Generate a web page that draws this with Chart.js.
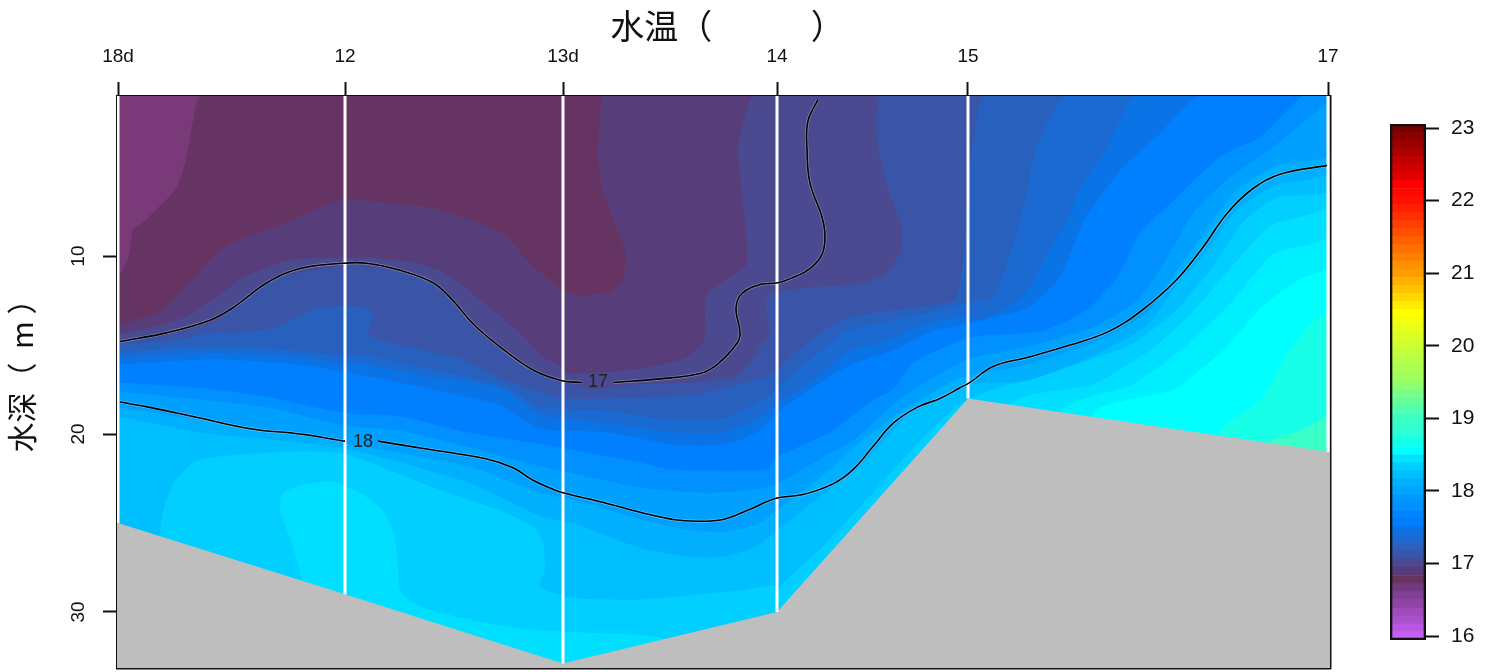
<!DOCTYPE html>
<html>
<head>
<meta charset="utf-8">
<title>水温</title>
<script src="https://cdn.jsdelivr.net/npm/chart.js@4/dist/chart.umd.min.js"></script>
<style>
  html, body { margin: 0; background: #fff; }
  #section { position: absolute; left: 0; top: 0; }
  #colorbar { position: absolute; left: 1340px; top: 0; }
</style>
</head>
<body>
<canvas id="section" width="1434" height="672"></canvas>
<canvas id="colorbar" width="153" height="672"></canvas>
<script>
// stations along the section
const stationLabels = ['18d', '12', '13d', '14', '15', '17'];
const stationKm = [0, 22.7, 44.5, 65.9, 85, 121];
const stationDepth = [25, 29, 32.9, 30, 18, 21];
const depthTicks = [10, 20, 30];

// colour bar
const barTicks = [16, 17, 18, 19, 20, 21, 22, 23];
const barBreaks = [15.945, 16.056, 16.167, 16.278, 16.39, 16.501, 16.612, 16.723, 16.834, 16.945, 17.056, 17.167, 17.278, 17.39, 17.501, 17.612, 17.723, 17.834, 17.945, 18.056, 18.167, 18.278, 18.39, 18.501, 18.612, 18.723, 18.834, 18.945, 19.056, 19.167, 19.278, 19.39, 19.501, 19.612, 19.723, 19.834, 19.945, 20.056, 20.167, 20.278, 20.39, 20.501, 20.612, 20.723, 20.834, 20.945, 21.056, 21.167, 21.278, 21.39, 21.501, 21.612, 21.723, 21.834, 21.945, 22.056, 22.167, 22.278, 22.39, 22.501, 22.612, 22.723, 22.834, 22.945, 23.056];
const barColors = ['#C560F2', '#B858E0', '#A951CC', '#9C4BB8', '#8E45A5', '#804093', '#723A80', '#67345F', '#5A3B79', '#4C4890', '#3D54A6', '#2E5FB9', '#1E69CE', '#0F72E3', '#007DFF', '#0085FF', '#0090FF', '#0098FF', '#00A5FF', '#00B0FF', '#00BFFF', '#00CFFF', '#00E4FF', '#00FFFF', '#14FFEC', '#28FFD7', '#34FFCB', '#3CFFC3', '#50FFAF', '#64FF9B', '#78FF87', '#8CFF73', '#A0FF5F', '#AAFF55', '#B4FF4B', '#C0FF3F', '#CCFF33', '#D8FF28', '#E4FF1C', '#F2FF0E', '#FFFF00', '#FFEC00', '#FFD800', '#FFC400', '#FFB000', '#FF9C00', '#FF9000', '#FF8000', '#FF7000', '#FF6000', '#FF5000', '#FF4000', '#FF3000', '#FF2000', '#FF1000', '#FF0800', '#FF0000', '#E00000', '#D00000', '#BE0000', '#AC0000', '#9A0000', '#880000', '#760000'];

// band outlines as [km, depth]
const bandBase = [[-0.1, 1], [121.2, 1], [121.2, 33.15], [-0.1, 33.15]];
const band17 = [[-0.1, 33.15], [115.2, 33.15], [115.2, 20.5], [118.2, 19.8], [121.2, 18.7]];
const band16 = [[-0.1, 33.15], [110.2, 33.15], [110.2, 19.9], [114.2, 18.1], [117.2, 15.3], [119.2, 13.8], [121.2, 13]];
const band15 = [[-0.1, 33.15], [97.5, 33.15], [97.5, 18.9], [105.5, 17.5], [110.5, 15.3], [114.5, 12.8], [118.2, 11.3], [121.2, 10.5]];
const band14 = [[-0.1, 33.15], [94.2, 33.15], [94.2, 18.8], [101.5, 17.2], [106.9, 15], [111.5, 12.5], [115.5, 9.9], [121.2, 8.8]];
const band13 = [[-0.1, 33.15], [89.2, 33.15], [89.2, 18.4], [97.5, 17.2], [103.2, 15.3], [107.2, 13.3], [111.5, 10.5], [115.2, 8.3], [121.2, 7.1]];
const band12 = [[-0.1, 33.15], [65.9, 33.15], [65.9, 28.9], [70.5, 26.3], [75.5, 23.3], [80.5, 20.2], [84.2, 18.3], [87.5, 17.5], [94.2, 16.4], [101.5, 14.9], [105.9, 13], [109.2, 10.8], [112.5, 8.1], [115.9, 6.7], [121.2, 6.3]];
const pocket13 = [[4.2, 33.15], [4.2, 25.7], [4.5, 24.4], [5.5, 22.8], [7.5, 21.6], [9.5, 21.3], [16.9, 21], [22.5, 21.1], [31.5, 23], [38.2, 24.3], [41.5, 25.2], [42.5, 26.1], [42.7, 27.6], [42.2, 28.6], [45.5, 29.2], [52.2, 29.3], [62.2, 28.8], [65.9, 28.6], [65.9, 33.15]];
const pocket14 = [[18.3, 33.15], [18.3, 28.1], [17.9, 27.1], [17.2, 25.8], [16.2, 24.3], [16.5, 23.3], [18.9, 22.8], [21.5, 22.7], [24.2, 23.3], [26.5, 24.3], [27.7, 25.8], [28, 27.6], [28.2, 28.8], [30.2, 29.7], [34.9, 30.4], [39.9, 30.9], [44.4, 31.1], [52.2, 31.3], [54.7, 31.6], [54.7, 33.15]];
const band11 = [[-0.1, 19], [8.2, 19.9], [22.5, 20.8], [34.9, 22.7], [42.2, 24.6], [45.5, 25], [52.2, 26.4], [57.2, 26.9], [60.5, 26.9], [63.9, 26.3], [65.9, 25.4], [71.2, 23.1], [73.9, 22], [78.9, 19], [82.9, 17.7], [85, 17.2], [90.9, 17], [97.5, 15.6], [102.9, 13.9], [105.9, 11.6], [108.9, 9.7], [111.9, 7.4], [115.9, 6], [121.2, 5.3]];
const band10 = [[-0.1, 18.5], [8.2, 19.2], [22.5, 20.5], [34.9, 21.8], [42.2, 23.3], [45.5, 23.7], [52.2, 24.8], [57.2, 25.4], [60.5, 25.5], [63.9, 25.1], [65.9, 24.3], [71.2, 22], [73.9, 20.6], [78.2, 18.8], [82.9, 17.2], [85, 16.7], [90.9, 16.1], [97.5, 14.9], [102.9, 13.2], [105.9, 10.8], [108.9, 8.5], [111.9, 6.3], [115.9, 4.9], [121.2, 4.3]];
const band9 = [[-0.1, 17.6], [14.9, 18.5], [22.5, 19.5], [28.2, 19.8], [34.9, 20.7], [41.5, 21.7], [45.5, 22.2], [52.2, 23], [58.9, 23.3], [63.9, 23.1], [65.9, 22.8], [70.5, 21.3], [73.9, 20.2], [77.2, 18.5], [79.5, 17.5], [85, 15.8], [90.9, 15.1], [97.5, 14], [101.9, 12.5], [104.9, 10.1], [107.5, 7.6], [110.9, 5.7], [115.9, 3.7], [121.2, 1.2]];
const band8 = [[-0.1, 17.1], [8.2, 17.4], [14.9, 17.9], [22.5, 18.8], [28.2, 19], [34.9, 19.9], [41.5, 20.5], [45.5, 20.9], [52.2, 21.6], [55.5, 22], [64.9, 22], [65.9, 21.3], [71.2, 19.9], [75.5, 18.1], [77.5, 17.5], [79.5, 16], [85, 14.6], [92.5, 14.2], [96.9, 13], [99.9, 11.2], [102.2, 8.7], [105.5, 6.9], [110.2, 4.4], [114.2, 3.3], [118.5, 1]];
const band7 = [[-0.1, 16.1], [9.5, 15.8], [18.2, 16.1], [22.5, 16.5], [31.5, 17.5], [38.2, 18.4], [42.2, 19.7], [48.9, 19.9], [55.5, 20.6], [60.5, 20.6], [63.9, 19.9], [65.9, 18.8], [72.9, 16.2], [77.5, 15.3], [81.5, 14.2], [85, 13.8], [90.9, 12.9], [94.2, 11.2], [96.5, 8.1], [100.2, 5.2], [104.2, 3.1], [108.2, 1]];
const band6 = [[-0.1, 15.7], [9.5, 15.4], [18.2, 15.7], [22.5, 16], [24.9, 16.1], [31.5, 16.8], [38.2, 17.4], [42.2, 18.9], [48.9, 19.4], [55.5, 19.9], [60.5, 19.9], [63.9, 19.2], [65.9, 18.3], [69.5, 17], [72.9, 15.4], [76.2, 14.9], [80.9, 13.8], [84.9, 13.4], [86.2, 13.6], [90.5, 12.3], [93.9, 8.9], [94.9, 8.1], [95.9, 6.5], [98.9, 3.9], [101.9, 1]];
const band5 = [[-0.1, 15.4], [4.9, 15.2], [9.5, 15.1], [14.9, 15.2], [18.9, 15.4], [22.5, 15.6], [24.9, 15.6], [29.9, 16.2], [34.9, 16.8], [39.2, 17.5], [42.2, 18.5], [48.9, 18.7], [55.5, 19.2], [60.5, 19.1], [63.9, 18.3], [65.9, 17.5], [66.7, 17], [69.5, 15.7], [72.5, 14.3], [75.9, 13.8], [80.9, 13.2], [84.9, 12.6], [87.5, 12.3], [90.2, 8.1], [91.9, 3.9], [94.9, 1]];
const band4 = [[-0.1, 15], [5.9, 14.7], [9.5, 14.3], [11.9, 14.3], [15.9, 14], [18.2, 13.4], [19.9, 12.9], [22.9, 12.8], [24.9, 12.9], [25.5, 13.4], [25, 14.4], [27.5, 14.9], [31.5, 15.4], [34.5, 15.8], [38.9, 17], [41.5, 17.5], [44.7, 18], [49.2, 18], [57.5, 17.8], [62.9, 17.1], [65.5, 16.6], [67.2, 15.7], [70.2, 14.3], [73.5, 13.4], [79.5, 12.9], [83.5, 12.5], [84.2, 11.5], [84.7, 9.1], [85, 5.7], [85.7, 2.9], [86.7, 1]];
const band3 = [[-0.1, 14.8], [5.9, 14.3], [9.9, 13.6], [12.2, 12.5], [15.5, 11.3], [19.5, 10.8], [22.9, 10.5], [27.5, 10.8], [30.9, 11.3], [33.5, 12.6], [35.9, 14.2], [39.5, 15.7], [42.5, 16.6], [44.7, 17.1], [47.5, 17.5], [51.9, 17.2], [57.5, 17.1], [61.5, 16.8], [62.9, 16.2], [64.2, 15.1], [65.2, 14.3], [64.9, 13.2], [64.7, 12.6], [65.5, 12.1], [66.9, 11.9], [70.9, 11.7], [74.9, 11.5], [77.2, 10.8], [78.4, 9.5], [78.2, 8.1], [76.7, 5.7], [75.9, 3.5], [75.9, 1.6], [76.4, 1]];
const band2 = [[-0.1, 14.4], [3.5, 14], [6.9, 13.4], [9.9, 12.3], [12.5, 11.2], [17.2, 10.2], [22.5, 10.1], [25.5, 10.1], [29.9, 10.4], [32.9, 11], [35.9, 12.3], [39.9, 14.2], [42.5, 15.7], [44.4, 16.2], [44.7, 16.6], [49.2, 16.5], [53.5, 16.2], [56.9, 15.7], [58, 15.2], [58.7, 14.6], [58.7, 12.6], [59.2, 11.9], [61.2, 11.2], [62.9, 10.4], [62.5, 7], [62, 3.9], [62.9, 1.8], [63.5, 1]];
const band1 = [[-0.1, 13.9], [2.9, 13.4], [4.5, 13], [7.5, 11.3], [9.9, 9.8], [12.5, 9], [16.9, 8.1], [20.9, 7.1], [22.9, 6.8], [26.9, 7], [31.5, 7.3], [35.9, 8.1], [38.9, 8.9], [41.2, 10.4], [44.4, 11.9], [46.2, 12.2], [49.2, 12], [50.5, 11.3], [50.7, 9.7], [49.9, 8.5], [48.4, 6.1], [48, 4.4], [48.3, 1.2], [48.3, 1]];
const band0 = [[-0.1, 11], [0.2, 11], [1, 10.1], [1.5, 8.5], [2.5, 8.1], [4.5, 7], [5.7, 6.3], [6.5, 5.2], [7, 4], [7.5, 2.4], [8.3, 1]];

// black isotherms, split where the label sits
const iso17a = [[0.2, 14.8], [4.9, 14.3], [9.2, 13.6], [11.5, 12.9], [14.9, 11.5], [18.2, 10.7], [22.5, 10.4], [24.9, 10.4], [28.2, 10.8], [31.5, 11.5], [33.5, 12.5], [35.5, 13.8], [38.2, 15.1], [41.5, 16.4], [44.4, 17], [46.4, 17.1]];
const iso17b = [[49.5, 17.1], [54.2, 16.9], [58.2, 16.6], [59.9, 16.1], [61.9, 14.9], [62.2, 14.3], [61.8, 12.9], [62.4, 12.1], [64.2, 11.6], [66, 11.5], [67.5, 11.2], [69.2, 10.7], [70.4, 9.9], [70.7, 8.9], [70.4, 7.8], [69.2, 5.9], [68.9, 4], [69, 2.4], [70, 1.2]];
const iso18a = [[0.2, 18.2], [3.2, 18.5], [8.2, 19.1], [13.2, 19.7], [18.2, 20], [22.7, 20.4]];
const iso18b = [[26, 20.4], [31.5, 20.9], [36.9, 21.4], [39.5, 21.9], [41.5, 22.6], [43.5, 23.1], [44.5, 23.3], [48.9, 23.9], [52.2, 24.4], [55.5, 24.8], [57.9, 24.9], [60.5, 24.8], [62.9, 24.3], [65.9, 23.6], [68.5, 23.4], [71.5, 22.8], [73.5, 22], [75.5, 20.7], [77.5, 19.4], [79.9, 18.5], [82.2, 18], [84.2, 17.4], [85.2, 17.1], [87.5, 16.2], [90.9, 15.7], [95.2, 15], [99.2, 14.2], [102.5, 13], [105.9, 11.3], [108.5, 9.5], [110.9, 7.6], [113.5, 6.2], [116.2, 5.4], [120.9, 4.9]];
const isoLabels = ['17', '18'];
const isoLabelKm = [48, 24.5];
const isoLabelDepth = [17.1, 20.45];

const TEXT_FONT = '"Liberation Sans", Arial, sans-serif';
const CJK_FONT = '"Noto Sans CJK SC", "Liberation Sans", sans-serif';
const XMIN = -0.1, XMAX = 121.2, YMIN = 1, YMAX = 33.15;

const toPoints = pairs => pairs.map(p => ({ x: p[0], y: p[1] }));

function shapeSet(pairs, color, tension) {
  return {
    data: toPoints(pairs.concat([pairs[0]])), showLine: true, pointRadius: 0, borderWidth: 0,
    backgroundColor: color, fill: 'shape', tension: tension
  };
}

// bands close along the top edge of the section
function bandSet(pairs, color) {
  return shapeSet(pairs.concat([[XMAX, YMIN], [XMIN, YMIN]]), color, 0.2);
}

function lineSet(pairs, color, width, tension) {
  return {
    data: toPoints(pairs), showLine: true, pointRadius: 0, fill: false,
    borderColor: color, borderWidth: width, tension: tension
  };
}

// paint order: first listed ends up underneath
const layers = [
  shapeSet(bandBase, '#3CFFC8', 0),
  bandSet(band17, '#18FFE8'),
  bandSet(band16, '#00FFFF'),
  bandSet(band15, '#00EFFF'),
  bandSet(band14, '#00DFFF'),
  bandSet(band13, '#00CFFF'),
  bandSet(band12, '#00BFFF'),
  shapeSet(pocket13, '#00CFFF', 0.2),
  shapeSet(pocket14, '#00DFFF', 0.2),
  bandSet(band11, '#00B0FF'),
  bandSet(band10, '#00A0FF'),
  bandSet(band9, '#0090FF'),
  bandSet(band8, '#007FFF'),
  bandSet(band7, '#0A74E6'),
  bandSet(band6, '#1A6AD2'),
  bandSet(band5, '#2860BE'),
  bandSet(band4, '#3A55A8'),
  bandSet(band3, '#4B4A90'),
  bandSet(band2, '#573D7A'),
  bandSet(band1, '#663462'),
  bandSet(band0, '#7A3A7A')
];

// sea floor
const floorPairs = stationKm.map((km, i) => [km, stationDepth[i]]);
layers.push(shapeSet([[XMIN, YMAX], [XMIN, 25]].concat(floorPairs, [[XMAX, 21], [XMAX, YMAX]]), '#BEBEBE', 0));

// station casts
stationKm.forEach((km, i) => {
  layers.push(lineSet([[km, YMIN], [km, stationDepth[i]]], '#FFFFFF', 3, 0));
});

[iso17a, iso17b, iso18a, iso18b].forEach(iso => {
  layers.push(lineSet(iso, 'rgba(255,255,255,0.35)', 3, 0.4));
  layers.push(lineSet(iso, '#000000', 1.6, 0.4));
});

// Chart.js paints the first dataset last
layers.reverse();

const isoLabelPlugin = {
  id: 'isoLabels',
  afterDatasetsDraw(chart) {
    const ctx = chart.ctx;
    ctx.save();
    ctx.font = '18px ' + TEXT_FONT;
    ctx.fillStyle = '#222';
    ctx.textAlign = 'center';
    ctx.textBaseline = 'middle';
    isoLabels.forEach((txt, i) => {
      ctx.fillText(txt, chart.scales.x.getPixelForValue(isoLabelKm[i]), chart.scales.y.getPixelForValue(isoLabelDepth[i]));
    });
    ctx.restore();
  }
};

// tick labels must not push the plot area in
function noPadding(s) {
  s.paddingTop = s.paddingBottom = s.paddingLeft = s.paddingRight = 0;
}

const frameAxis = (position, min, max, reverse) => ({
  type: 'linear', position: position, min: min, max: max, reverse: reverse, z: 2,
  ticks: { display: false },
  grid: { drawTicks: false, drawOnChartArea: false },
  border: { display: true, color: '#111', width: 2.5 },
  afterFit(s) { if (s.isHorizontal()) s.height = 0; else s.width = 0; noPadding(s); }
});

new Chart(document.getElementById('section'), {
  type: 'scatter',
  data: { datasets: layers },
  plugins: [isoLabelPlugin],
  options: {
    responsive: false,
    animation: false,
    events: [],
    layout: { autoPadding: false, padding: { left: 0, right: 104, top: 0, bottom: 4 } },
    plugins: {
      legend: { display: false },
      tooltip: { enabled: false },
      title: {
        display: true,
        // spaces keep the glyphs where the blank unit symbol left them
        text: '　　　   水温（　　    ）',
        color: '#111',
        font: { family: CJK_FONT, size: 34, weight: 'normal', lineHeight: 1.2 },
        padding: { top: 6, bottom: 0 }
      }
    },
    scales: {
      x: {
        type: 'linear', position: 'top', min: XMIN, max: XMAX, z: 2,
        afterBuildTicks(s) { s.ticks = stationKm.map(v => ({ value: v })); },
        afterFit(s) { s.height = 49.2; noPadding(s); },
        ticks: {
          autoSkip: false, maxRotation: 0, padding: 14, color: '#111',
          font: { family: TEXT_FONT, size: 19 },
          callback: v => stationLabels[stationKm.indexOf(v)]
        },
        grid: { drawOnChartArea: false, tickLength: 14, tickColor: '#111', tickWidth: 2 },
        border: { display: true, color: '#111', width: 2.5 }
      },
      y: {
        type: 'linear', position: 'left', min: YMIN, max: YMAX, reverse: true, z: 2,
        afterBuildTicks(s) { s.ticks = depthTicks.map(v => ({ value: v })); },
        afterFit(s) { s.width = 117; noPadding(s); },
        ticks: {
          autoSkip: false, minRotation: 90, maxRotation: 90, padding: 14, crossAlign: 'center', color: '#111',
          font: { family: TEXT_FONT, size: 19 }
        },
        grid: { drawOnChartArea: false, tickLength: 14, tickColor: '#111', tickWidth: 2 },
        border: { display: true, color: '#111', width: 2.5 },
        title: {
          display: true, text: '    水深（  m ）', color: '#111',
          font: { family: CJK_FONT, size: 30, weight: 'normal', lineHeight: 1.2 },
          padding: { top: 4, bottom: 0 }
        }
      },
      xFrame: frameAxis('bottom', XMIN, XMAX, false),
      yFrame: frameAxis('right', YMIN, YMAX, true)
    }
  }
});

// colour bar: one floating bar per level plus an outline bar on top
const barSets = barColors.map((c, i) => ({
  data: [[barBreaks[i], barBreaks[i + 1]]],
  backgroundColor: c, borderWidth: 0, order: 2
}));
barSets.unshift({
  data: [[barBreaks[0], barBreaks[barBreaks.length - 1]]],
  backgroundColor: 'rgba(0,0,0,0)', borderColor: '#111', borderWidth: 2, borderSkipped: false, order: 1
});

new Chart(document.getElementById('colorbar'), {
  type: 'bar',
  data: { labels: [''], datasets: barSets },
  options: {
    responsive: false,
    animation: false,
    events: [],
    layout: { autoPadding: false, padding: { left: 50, right: 0, top: 124, bottom: 32 } },
    datasets: { bar: { grouped: false, barPercentage: 1, categoryPercentage: 1 } },
    plugins: { legend: { display: false }, tooltip: { enabled: false } },
    scales: {
      x: { display: false },
      y: {
        position: 'right', min: barBreaks[0], max: barBreaks[barBreaks.length - 1],
        afterBuildTicks(s) { s.ticks = barTicks.map(v => ({ value: v })); },
        afterFit(s) { s.width = 67; noPadding(s); },
        ticks: { padding: 12, color: '#111', font: { family: TEXT_FONT, size: 21 } },
        grid: { drawOnChartArea: false, tickLength: 13, tickColor: '#111', tickWidth: 2 },
        border: { display: false }
      }
    }
  }
});
</script>
</body>
</html>
